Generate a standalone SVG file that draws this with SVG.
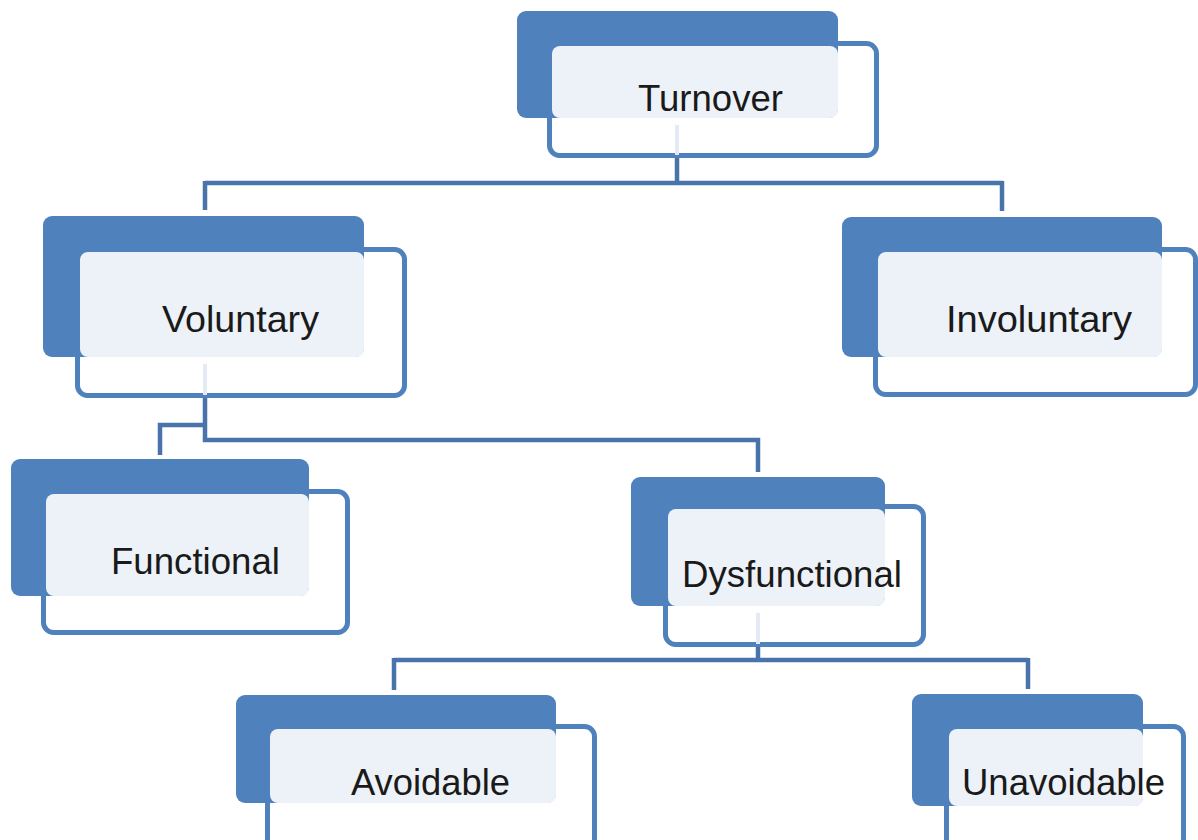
<svg xmlns="http://www.w3.org/2000/svg" width="1198" height="840" viewBox="0 0 1198 840">
<style>
.back{fill:#4F81BD}
.front{fill:#FFFFFF;stroke:#4F81BD;stroke-width:5}
.light{fill:#EDF2F9}
.ghost{stroke:#E3EAF4;stroke-width:4;fill:none}
.lbl{font-family:"Liberation Sans","Arial",sans-serif;font-size:36px;fill:#1A1A1A;text-anchor:middle}
.conn{fill:none;stroke:#4874AB;stroke-width:4.5;stroke-linejoin:miter;stroke-linecap:butt}
</style>
<rect width="1198" height="840" fill="#FFFFFF"/>
<g id="connectors">
<path class="conn" d="M677,158 V183 M205,183 H1003 M205,181 V210 M1002,181 V211"/>
<path class="conn" d="M205,398 V440 H758 V472 M207,425 H160 V455"/>
<path class="conn" d="M758,647 V660 M394,660 H1028 M394,658 V690 M1028,658 V689"/>
</g>
<g id="node-turnover">
<rect class="front" x="549.5" y="43.5" width="327" height="112" rx="10"/>
<rect class="back" x="517" y="11" width="321" height="107" rx="9"/>
<rect class="light" x="552" y="46" width="286" height="72" rx="8"/>
<line class="ghost" x1="677" y1="125" x2="677" y2="155"/>
<text class="lbl" x="710.5" y="111" textLength="145" lengthAdjust="spacingAndGlyphs">Turnover</text>
</g>
<g id="node-voluntary">
<rect class="front" x="77.5" y="249.5" width="327" height="146" rx="10"/>
<rect class="back" x="43" y="216" width="321" height="141" rx="9"/>
<rect class="light" x="80" y="252" width="284" height="105" rx="8"/>
<line class="ghost" x1="205" y1="364" x2="205" y2="395"/>
<text class="lbl" x="240.5" y="332" textLength="157" lengthAdjust="spacingAndGlyphs">Voluntary</text>
</g>
<g id="node-involuntary">
<rect class="front" x="875.5" y="249.5" width="320" height="145" rx="10"/>
<rect class="back" x="842" y="217" width="320" height="140" rx="9"/>
<rect class="light" x="878" y="252" width="284" height="105" rx="8"/>
<text class="lbl" x="1039" y="332" textLength="186" lengthAdjust="spacingAndGlyphs">Involuntary</text>
</g>
<g id="node-functional">
<rect class="front" x="43.5" y="491.5" width="304" height="141" rx="10"/>
<rect class="back" x="11" y="459" width="298" height="137" rx="9"/>
<rect class="light" x="46" y="494" width="263" height="102" rx="8"/>
<text class="lbl" x="195.5" y="574" textLength="169" lengthAdjust="spacingAndGlyphs">Functional</text>
</g>
<g id="node-dysfunctional">
<rect class="front" x="665.5" y="506.5" width="258" height="138" rx="10"/>
<rect class="back" x="631" y="477" width="254" height="129" rx="9"/>
<rect class="light" x="668" y="509" width="217" height="97" rx="8"/>
<line class="ghost" x1="758" y1="613" x2="758" y2="644"/>
<text class="lbl" x="792" y="587" textLength="220" lengthAdjust="spacingAndGlyphs">Dysfunctional</text>
</g>
<g id="node-avoidable">
<rect class="front" x="267.5" y="726.5" width="327" height="130" rx="10"/>
<rect class="back" x="236" y="695" width="320" height="108" rx="9"/>
<rect class="light" x="270" y="729" width="286" height="74" rx="8"/>
<text class="lbl" x="430.5" y="795" textLength="159" lengthAdjust="spacingAndGlyphs">Avoidable</text>
</g>
<g id="node-unavoidable">
<rect class="front" x="946.5" y="726.5" width="237" height="130" rx="10"/>
<rect class="back" x="912" y="694" width="231" height="112" rx="9"/>
<rect class="light" x="949" y="729" width="194" height="77" rx="8"/>
<text class="lbl" x="1063.5" y="795" textLength="203" lengthAdjust="spacingAndGlyphs">Unavoidable</text>
</g>
</svg>
